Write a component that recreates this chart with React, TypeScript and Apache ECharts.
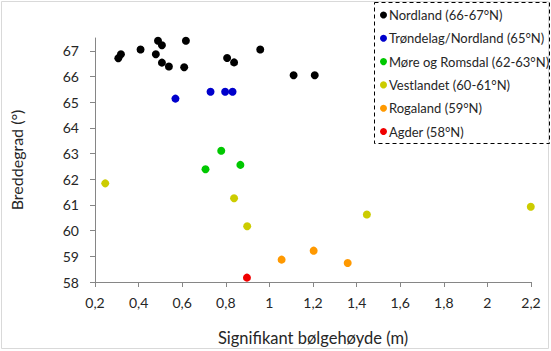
import React, { useEffect, useRef } from "react";
import * as echarts from "echarts";

const seriesNames = [
  "Nordland (66-67°N)",
  "Trøndelag/Nordland (65°N)",
  "Møre og Romsdal (62-63°N)",
  "Vestlandet (60-61°N)",
  "Rogaland (59°N)",
  "Agder (58°N)",
];
const seriesColors = ["#000000", "#0000CC", "#00C800", "#CCCC00", "#FF9900", "#F00000"];

const nordland: [number, number][] = [
  [0.307, 66.71], [0.319, 66.87], [0.409, 67.05], [0.479, 66.87], [0.489, 67.39],
  [0.507, 67.22], [0.507, 66.54], [0.539, 66.39], [0.617, 67.39], [0.609, 66.36],
  [0.806, 66.72], [0.838, 66.55], [0.958, 67.05], [1.111, 66.05], [1.208, 66.05],
];
const trondelag: [number, number][] = [
  [0.569, 65.14], [0.73, 65.41], [0.797, 65.41], [0.831, 65.41],
];
const more: [number, number][] = [
  [0.707, 62.39], [0.779, 63.11], [0.867, 62.56],
];
const vestlandet: [number, number][] = [
  [0.247, 61.84], [0.838, 61.26], [0.898, 60.17], [1.447, 60.63], [2.199, 60.93],
];
const rogaland: [number, number][] = [
  [1.056, 58.87], [1.203, 59.22], [1.359, 58.74],
];
const agder: [number, number][] = [[0.897, 58.17]];

const seriesData = [nordland, trondelag, more, vestlandet, rogaland, agder];
const yTicks = [58, 59, 60, 61, 62, 63, 64, 65, 66, 67];

const FONT = "Lato, 'Noto Sans', sans-serif";
const TEXT = "#262626";
const AXIS = "#868686";

export default function App() {
  const ref = useRef<HTMLDivElement>(null);
  useEffect(() => {
    if (!ref.current) return;
    const chart = echarts.init(ref.current, undefined, { renderer: "svg" });
    chart.setOption({
      animation: false,
      backgroundColor: "#ffffff",
      textStyle: { fontFamily: FONT },
      grid: { left: 89, right: 20, top: 38, bottom: 66.5, containLabel: false },
      xAxis: {
        type: "value",
        min: 0.2,
        max: 2.2,
        interval: 0.2,
        name: "Signifikant bølgehøyde (m)",
        nameLocation: "middle",
        nameGap: 47,
        nameTextStyle: { fontFamily: FONT, fontSize: 16.5, color: TEXT },
        axisLine: { show: true, lineStyle: { color: AXIS, width: 1 } },
        axisTick: { show: true, length: 5, inside: false, lineStyle: { color: AXIS } },
        splitLine: { show: false },
        axisLabel: {
          fontFamily: FONT,
          fontSize: 14,
          color: TEXT,
          margin: 13,
          formatter: (v: number) => String(Number(v.toFixed(1))).replace(".", ","),
        },
      },
      yAxis: {
        type: "value",
        min: 58,
        max: 67.5,
        interval: 1,
        name: "Breddegrad (°)",
        nameLocation: "middle",
        nameRotate: 90,
        nameGap: 71,
        nameTextStyle: { fontFamily: FONT, fontSize: 16, color: TEXT },
        axisLine: { show: true, lineStyle: { color: AXIS, width: 1 } },
        axisTick: { show: true, length: 5, lineStyle: { color: AXIS }, customValues: yTicks },
        splitLine: { show: false },
        axisLabel: {
          fontFamily: FONT,
          fontSize: 14,
          color: TEXT,
          margin: 16,
          customValues: yTicks,
        },
      },
      legend: {
        orient: "vertical",
        left: 380,
        top: 8,
        padding: 0,
        itemGap: 9.3,
        itemWidth: 7,
        itemHeight: 7,
        icon: "circle",
        textStyle: { fontFamily: FONT, fontSize: 13, color: TEXT, lineHeight: 14, padding: [0, 0, 0, -3] },
        data: seriesNames,
      },
      graphic: [
        {
          type: "rect",
          shape: { x: 1.5, y: 1.5, width: 547, height: 347 },
          style: { fill: "none", stroke: "#d9d9d9", lineWidth: 1 },
          silent: true,
        },
        {
          type: "rect",
          shape: { x: 374.5, y: 2.5, width: 175, height: 141 },
          style: { fill: "none", stroke: "#000000", lineWidth: 1, lineDash: [4, 3] },
          silent: true,
        },
      ],
      series: seriesNames.map((name, i) => ({
        name,
        type: "scatter",
        symbol: "circle",
        symbolSize: 8,
        itemStyle: { color: seriesColors[i], opacity: 1 },
        data: seriesData[i],
      })),
    });
    return () => chart.dispose();
  }, []);
  return (
    <div
      ref={ref}
      style={{ position: "absolute", left: 0, top: 0, width: 551, height: 351 }}
    />
  );
}
